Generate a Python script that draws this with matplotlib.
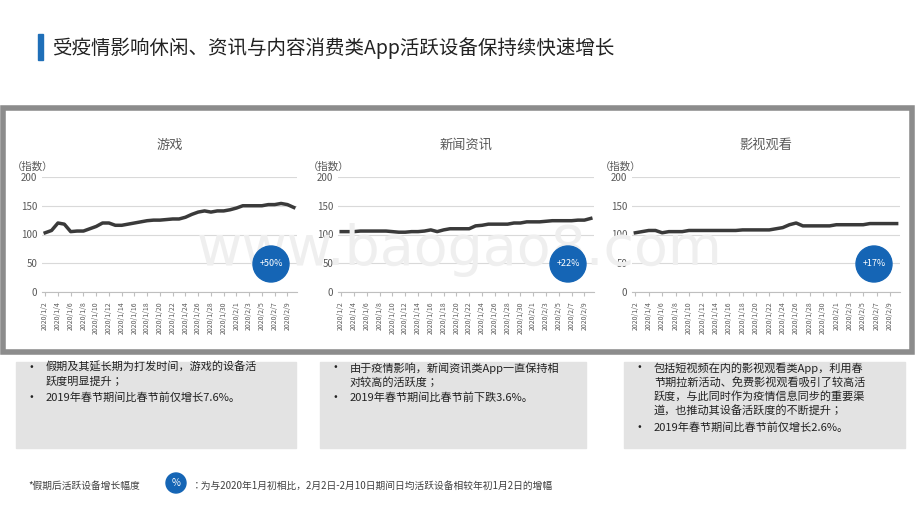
import matplotlib.pyplot as plt
from matplotlib.patches import Rectangle, Circle
import datetime as dt

plt.rcParams['font.family'] = 'sans-serif'
plt.rcParams['font.sans-serif'] = ['Noto Sans CJK SC', 'Noto Sans CJK JP', 'Noto Sans CJK TC', 'DejaVu Sans']

start = dt.date(2020, 1, 2)
dates = [start + dt.timedelta(days=i) for i in range(40)]
date_labels = [f"{d.year}/{d.month}/{d.day}" for d in dates]

games = [103, 107, 120, 118, 105, 106, 106, 110, 114, 120, 120, 116, 116, 118, 120, 122, 124, 125, 125, 126,
         127, 127, 130, 135, 139, 141, 139, 141, 141, 143, 146, 150, 150, 150, 150, 152, 152, 154, 152, 147]
news = [105, 105, 105, 106, 106, 106, 106, 106, 105, 104, 104, 105, 105, 106, 108, 105, 108, 110, 110, 110,
        110, 115, 116, 118, 118, 118, 118, 120, 120, 122, 122, 122, 123, 124, 124, 124, 124, 125, 125, 128]
video = [103, 105, 107, 107, 103, 105, 105, 105, 107, 107, 107, 107, 107, 107, 107, 107, 108, 108, 108, 108,
         108, 110, 112, 117, 120, 115, 115, 115, 115, 115, 117, 117, 117, 117, 117, 119, 119, 119, 119, 119]

titles = ['游戏', '新闻资讯', '影视观看']
growth = ['+50%', '+22%', '+17%']
series = [games, news, video]
notes = [
    ['假期及其延长期为打发时间，游戏的设备活\n跃度明显提升；', '2019年春节期间比春节前仅增长7.6%。'],
    ['由于疫情影响，新闻资讯类App一直保持相\n对较高的活跃度；', '2019年春节期间比春节前下跌3.6%。'],
    ['包括短视频在内的影视观看类App，利用春\n节期拉新活动、免费影视观看吸引了较高活\n跃度，与此同时作为疫情信息同步的重要渠\n道，也推动其设备活跃度的不断提升；', '2019年春节期间比春节前仅增长2.6%。'],
]

W, H = 920, 518
fig = plt.figure(figsize=(9.2, 5.18), dpi=100)

def px(x, y):
    return x / W, 1 - y / H

# title
fig.patches.append(Rectangle(px(38, 60), 5 / W, 26 / H, transform=fig.transFigure, color='#1f6fb8'))
fig.text(*px(52, 48), '受疫情影响休闲、资讯与内容消费类App活跃设备保持续快速增长',
         fontsize=14, va='center', color='#222222')

# frame
fig.patches.append(Rectangle(px(3, 352), 909 / W, 244 / H, transform=fig.transFigure,
                             fill=False, edgecolor='#8c8c8c', linewidth=4))

# watermark
fig.text(*px(460, 250), 'www.baogao8.com', fontsize=40, color='#efefef', ha='center', va='center',
         family='DejaVu Sans', zorder=0)

plot_x = [(42, 297), (338, 594), (632, 900)]
box_x = [(16, 296), (320, 586), (624, 905)]
for i in range(3):
    x0, x1 = plot_x[i]
    l, b = px(x0, 292)
    ax = fig.add_axes([l, b, (x1 - x0) / W, 115 / H])
    ax.patch.set_alpha(0)
    ax.plot(range(40), series[i], color='#3a3a3a', linewidth=2.5)
    ax.set_ylim(0, 200)
    ax.set_xlim(-0.5, 39.5)
    ax.set_yticks([0, 50, 100, 150, 200])
    ax.grid(axis='y', color='#d9d9d9', linewidth=0.8)
    ax.set_xticks(range(0, 40, 2))
    ax.set_xticklabels(date_labels[::2], rotation=90, fontsize=5, color='#595959')
    ax.tick_params(axis='y', length=0, labelsize=7, colors='#595959')
    ax.tick_params(axis='x', length=3, color='#bfbfbf')
    for s in ['top', 'right', 'left']:
        ax.spines[s].set_visible(False)
    ax.spines['bottom'].set_color('#bfbfbf')
    ax.set_axisbelow(True)
    ax.set_title(titles[i], fontsize=9.5, color='#595959', pad=20)
    ax.text(-0.12, 1.06, '（指数）', transform=ax.transAxes, fontsize=7.5, color='#595959', ha='left')
    # growth circle
    cx, cy = px(x1 - 26, 264)
    fig.patches.append(Circle((cx * W, cy * H), 18, transform=None, color='#1565b5', zorder=5))
    fig.text(cx, cy, growth[i], color='white', fontsize=6.5, ha='center', va='center', zorder=6)
    # note box
    bx0, bx1 = box_x[i]
    fig.patches.append(Rectangle(px(bx0, 448), (bx1 - bx0) / W, 86 / H, transform=fig.transFigure,
                                 color='#e3e3e3'))
    y = 362
    for n in notes[i]:
        fig.text(*px(bx0 + 14, y), '•', fontsize=8, va='top', color='#222222')
        fig.text(*px(bx0 + 30, y), n, fontsize=8, va='top', color='#222222', linespacing=1.35)
        y += 15 * (n.count('\n') + 1)

# footnote
fig.text(*px(28, 486), '*假期后活跃设备增长幅度', fontsize=7, va='center', color='#404040')
fig.patches.append(Circle((176, H - 483), 10, transform=None, color='#1565b5'))
fig.text(*px(176, 483), '%', fontsize=7, color='white', ha='center', va='center')
fig.text(*px(192, 486), '：为与2020年1月初相比，2月2日-2月10日期间日均活跃设备相较年初1月2日的增幅',
         fontsize=7, va='center', color='#404040')

fig.savefig('out.png', dpi=100)
